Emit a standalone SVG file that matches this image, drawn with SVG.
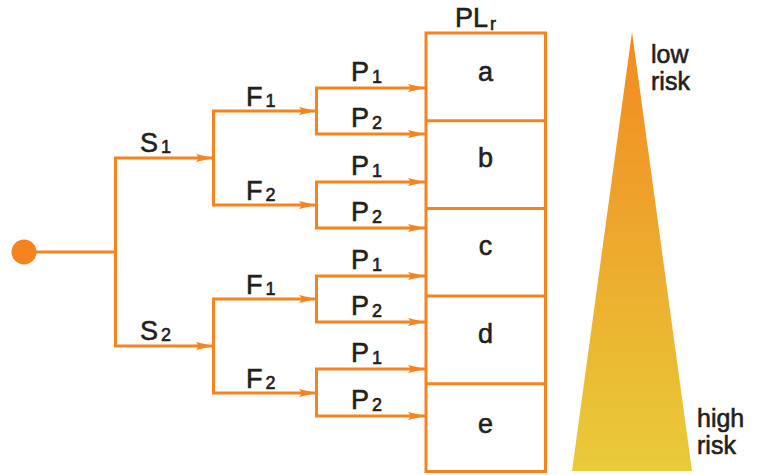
<svg xmlns="http://www.w3.org/2000/svg" width="758" height="475" viewBox="0 0 758 475">
<defs>
<style>
.ln{fill:none;stroke:#F5841F;stroke-width:3;}
.ar{fill:none;stroke:#F5841F;stroke-width:3;marker-end:url(#ah);}
.t{font-family:"Liberation Sans",Arial,sans-serif;font-size:27px;fill:#231F20;stroke:#231F20;stroke-width:0.6;}
.s{font-size:18px;}
.c{text-anchor:middle;}
.r{font-family:"Liberation Sans",Arial,sans-serif;font-size:25px;fill:#231F20;stroke:#231F20;stroke-width:0.6;}
</style>
<marker id="ah" markerUnits="userSpaceOnUse" markerWidth="18" markerHeight="10" refX="17" refY="5" orient="auto">
<path d="M0,1 L17,5 L0,9 L3,5 Z" fill="#F5841F"/>
</marker>
<linearGradient id="g" x1="0" y1="0" x2="0" y2="1">
<stop offset="0" stop-color="#F28A20"/>
<stop offset="0.5" stop-color="#EDAA2E"/>
<stop offset="1" stop-color="#E9CB38"/>
</linearGradient>
</defs>

<g id="connectors">
<path class="ln" d="M36,252 H115.5 M115.5,158 V346"/>
<path class="ar" d="M114,158 H213"/>
<path class="ar" d="M114,346 H213"/>
<path class="ln" d="M213.5,111 V205 M213.5,299 V393"/>
<path class="ar" d="M212,111 H316"/>
<path class="ar" d="M212,205 H316"/>
<path class="ar" d="M212,299 H316"/>
<path class="ar" d="M212,393 H316"/>
<path class="ln" d="M316.5,88 V134 M316.5,182 V228 M316.5,276 V322 M316.5,369 V416"/>
<path class="ar" d="M315,88 H425"/>
<path class="ar" d="M315,134 H425"/>
<path class="ar" d="M315,182 H425"/>
<path class="ar" d="M315,228 H425"/>
<path class="ar" d="M315,276 H425"/>
<path class="ar" d="M315,322 H425"/>
<path class="ar" d="M315,369 H425"/>
<path class="ar" d="M315,416 H425"/>
</g>

<g id="start"><circle cx="24" cy="252" r="12.5" fill="#F5841F"/></g>

<g id="labels">
<text class="t" x="140" y="152">S<tspan class="s" dx="3" dy="1">1</tspan></text>
<text class="t" x="140" y="340">S<tspan class="s" dx="3" dy="1">2</tspan></text>
<text class="t" x="246" y="106">F<tspan class="s" dx="3" dy="1">1</tspan></text>
<text class="t" x="246" y="200">F<tspan class="s" dx="3" dy="1">2</tspan></text>
<text class="t" x="246" y="294">F<tspan class="s" dx="3" dy="1">1</tspan></text>
<text class="t" x="246" y="388">F<tspan class="s" dx="3" dy="1">2</tspan></text>
<text class="t" x="351" y="81">P<tspan class="s" dx="3" dy="2">1</tspan></text>
<text class="t" x="351" y="127">P<tspan class="s" dx="3" dy="2">2</tspan></text>
<text class="t" x="351" y="175">P<tspan class="s" dx="3" dy="2">1</tspan></text>
<text class="t" x="351" y="221">P<tspan class="s" dx="3" dy="2">2</tspan></text>
<text class="t" x="351" y="269">P<tspan class="s" dx="3" dy="2">1</tspan></text>
<text class="t" x="351" y="315">P<tspan class="s" dx="3" dy="2">2</tspan></text>
<text class="t" x="351" y="362">P<tspan class="s" dx="3" dy="2">1</tspan></text>
<text class="t" x="351" y="409">P<tspan class="s" dx="3" dy="2">2</tspan></text>
</g>

<g id="plr">
<text class="t" x="455" y="27">PL<tspan class="s" dx="2" dy="3">r</tspan></text>
<rect class="ln" x="426" y="33" width="119.5" height="438.5"/>
<path class="ln" d="M426,120.7 H545.5 M426,208.4 H545.5 M426,296.1 H545.5 M426,383.8 H545.5"/>
</g>
<g id="box-a"><text class="t c" x="485.5" y="81">a</text></g>
<g id="box-b"><text class="t c" x="485.5" y="167">b</text></g>
<g id="box-c"><text class="t c" x="485.5" y="255">c</text></g>
<g id="box-d"><text class="t c" x="485.5" y="343">d</text></g>
<g id="box-e"><text class="t c" x="485.5" y="433">e</text></g>

<g id="risk">
<polygon points="632,32 692,471 572,471" fill="url(#g)"/>
<text class="r" x="651" y="63">low</text>
<text class="r" x="651" y="90">risk</text>
<text class="r" x="697" y="427">high</text>
<text class="r" x="697" y="454">risk</text>
</g>
</svg>
